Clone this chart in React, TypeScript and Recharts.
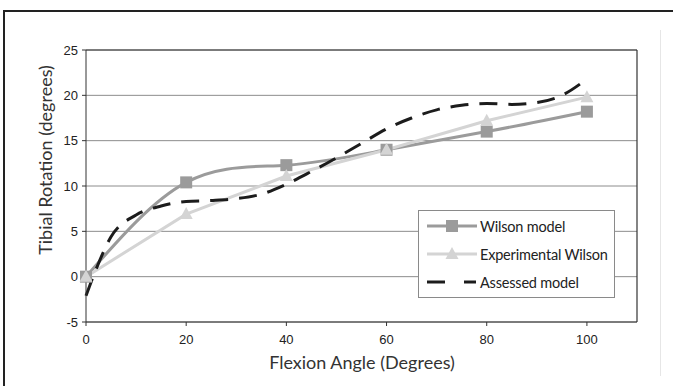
import React from 'react';
import {
  LineChart,
  Line,
  XAxis,
  YAxis,
  CartesianGrid,
  Legend,
  ReferenceLine,
} from 'recharts';

// Flexion angles where the models are sampled
const flexionAngles = [0, 20, 40, 60, 80, 100];
const wilsonModel = [0, 10.4, 12.3, 14.0, 16.0, 18.2];
const experimentalWilson = [0, 6.9, 11.1, 14.0, 17.2, 19.8];

// Assessed model is a denser curve
const assessedAngles = [0, 2, 5, 10, 15, 20, 25, 30, 35, 40, 45, 50, 55, 60, 65, 70, 75, 80, 85, 90, 95, 100];
const assessedModel = [-2.1, 0.8, 4.4, 6.8, 7.8, 8.3, 8.4, 8.6, 9.1, 10.2, 11.6, 13.1, 14.7, 16.3, 17.5, 18.4, 18.9, 19.1, 19.0, 19.2, 20.0, 21.8];

const xTicks = [0, 20, 40, 60, 80, 100];
const yTicks = [-5, 0, 5, 10, 15, 20, 25];

const WILSON = '#9b9b9b';
const EXPERIMENTAL = '#d4d4d4';
const ASSESSED = '#1c1c1c';
const TITLE_FONT = 'Lato, "Open Sans", sans-serif';
const TICK_FONT = '"Liberation Sans", Arial, sans-serif';

const wilsonData = flexionAngles.map((angle, i) => ({ angle, value: wilsonModel[i] }));
const experimentalData = flexionAngles.map((angle, i) => ({ angle, value: experimentalWilson[i] }));
const assessedData = assessedAngles.map((angle, i) => ({ angle, value: assessedModel[i] }));

function SquareDot(props: any) {
  const { cx, cy } = props;
  if (cx == null || cy == null) return null;
  return <rect x={cx - 6} y={cy - 6} width={12} height={12} fill={WILSON} />;
}

function TriangleDot(props: any) {
  const { cx, cy } = props;
  if (cx == null || cy == null) return null;
  return <polygon points={`${cx},${cy - 7} ${cx + 6.5},${cy + 5} ${cx - 6.5},${cy + 5}`} fill={EXPERIMENTAL} />;
}

function LegendBox() {
  const rows = [
    { name: 'Wilson model', kind: 'square' },
    { name: 'Experimental Wilson', kind: 'triangle' },
    { name: 'Assessed model', kind: 'dash' },
  ];
  return (
    <div
      style={{
        border: '1px solid #8a8a8a',
        background: '#fff',
        padding: '1px 0 1px 8px',
        fontFamily: TITLE_FONT,
        fontSize: 14.5,
        letterSpacing: -0.2,
        whiteSpace: 'nowrap',
        color: '#222',
      }}
    >
      {rows.map((r) => (
        <div key={r.name} style={{ display: 'flex', alignItems: 'center', height: 28 }}>
          <svg width={52} height={14} style={{ marginRight: 1 }}>
            {r.kind === 'square' && (
              <>
                <line x1={0} y1={7} x2={50} y2={7} stroke={WILSON} strokeWidth={3} />
                <rect x={19} y={1} width={12} height={12} fill={WILSON} />
              </>
            )}
            {r.kind === 'triangle' && (
              <>
                <line x1={0} y1={7} x2={50} y2={7} stroke={EXPERIMENTAL} strokeWidth={3} />
                <polygon points="25,0 31.5,12 18.5,12" fill={EXPERIMENTAL} />
              </>
            )}
            {r.kind === 'dash' && (
              <>
                <line x1={0} y1={7} x2={18} y2={7} stroke={ASSESSED} strokeWidth={3} />
                <line x1={37} y1={7} x2={49} y2={7} stroke={ASSESSED} strokeWidth={3} />
              </>
            )}
          </svg>
          <span>{r.name}</span>
        </div>
      ))}
    </div>
  );
}

function YTitle() {
  return (
    <text
      x={45}
      y={160}
      transform="rotate(-90 45 160)"
      textAnchor="middle"
      dominantBaseline="central"
      fontFamily={TITLE_FONT}
      fontSize={18}
      fill="#333"
    >
      Tibial Rotation (degrees)
    </text>
  );
}

function XTitle() {
  return (
    <text
      x={362}
      y={362}
      textAnchor="middle"
      dominantBaseline="central"
      fontFamily={TITLE_FONT}
      fontSize={18}
      fill="#333"
    >
      Flexion Angle (Degrees)
    </text>
  );
}

export default function App() {
  return (
    <div style={{ position: 'absolute', left: 0, top: 0, width: 673, height: 386, background: '#fff', overflow: 'hidden' }}>
      {/* figure frame */}
      <div style={{ position: 'absolute', left: 3, top: 10, width: 680, height: 390, borderTop: '2px solid #222', borderLeft: '2px solid #222' }} />
      <div style={{ position: 'absolute', left: 660, top: 30, width: 1, height: 346, background: '#e6e6e6' }} />
      <LineChart
        width={673}
        height={386}
        margin={{ top: 50, right: 36, bottom: 20, left: 0 }}
        style={{ position: 'absolute', left: 0, top: 0 }}
      >
        <CartesianGrid horizontal vertical={false} stroke="#8c8c8c" strokeWidth={1} />
        <XAxis
          type="number"
          dataKey="angle"
          domain={[0, 110]}
          ticks={xTicks}
          allowDuplicatedCategory={false}
          height={44}
          tickSize={4}
          tickMargin={9}
          stroke="#333"
          tick={{ fill: '#222', fontSize: 13, fontFamily: TICK_FONT }}
          label={<XTitle />}
        />
        <YAxis
          type="number"
          domain={[-5, 25]}
          ticks={yTicks}
          width={86}
          tickSize={4}
          tickMargin={4}
          stroke="#333"
          tick={{ fill: '#222', fontSize: 13, fontFamily: TICK_FONT }}
          label={<YTitle />}
        />
        <ReferenceLine y={25} stroke="#333" strokeWidth={1.2} />
        <ReferenceLine x={110} stroke="#333" strokeWidth={1.2} />
        <Line
          data={wilsonData}
          dataKey="value"
          type="natural"
          stroke={WILSON}
          strokeWidth={3}
          dot={<SquareDot />}
          activeDot={false}
          isAnimationActive={false}
          name="Wilson model"
        />
        <Line
          data={experimentalData}
          dataKey="value"
          type="linear"
          stroke={EXPERIMENTAL}
          strokeWidth={3}
          dot={<TriangleDot />}
          activeDot={false}
          isAnimationActive={false}
          name="Experimental Wilson"
        />
        <Line
          data={assessedData}
          dataKey="value"
          type="monotone"
          stroke={ASSESSED}
          strokeWidth={3}
          strokeDasharray="18 11"
          dot={false}
          activeDot={false}
          isAnimationActive={false}
          name="Assessed model"
        />
        <Legend
          layout="vertical"
          align="center"
          verticalAlign="middle"
          content={<LegendBox />}
          wrapperStyle={{ left: 418, top: 210, width: 197 }}
        />
      </LineChart>
    </div>
  );
}
